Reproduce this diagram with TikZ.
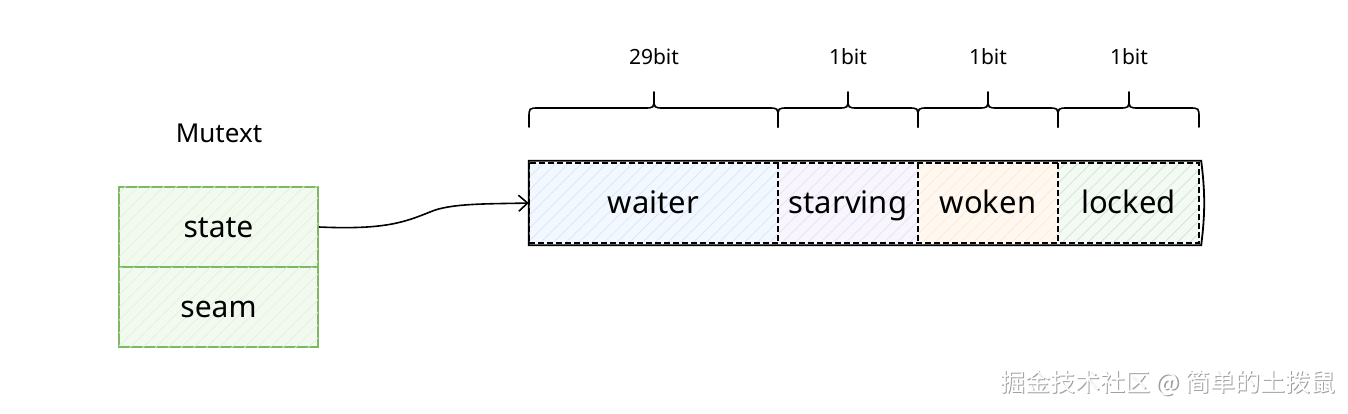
\documentclass[tikz,border=0pt]{standalone}
\usepackage{fontspec}
\setmainfont{Noto Sans}
\newfontfamily\cjk{Noto Sans CJK SC}
\usetikzlibrary{patterns.meta,arrows.meta}
\definecolor{grnline}{RGB}{125,185,100}
\definecolor{grnfill}{RGB}{242,250,240}
\definecolor{bluefill}{RGB}{241,248,254}
\definecolor{purpfill}{RGB}{247,245,254}
\definecolor{orgfill}{RGB}{255,248,240}
\definecolor{lgfill}{RGB}{242,250,243}
\tikzset{
  hatch/.style={postaction={pattern={Lines[angle=45,distance=9pt,line width=0.7pt]},pattern color=#1}},
  field/.style={rectangle,inner sep=0pt,minimum height=80pt,text height=24pt,text depth=4pt,font=\fontsize{31}{33}\selectfont},
  membox/.style={rectangle,draw=grnline,line width=2pt,fill=grnfill,hatch=grnline!22,minimum width=199pt,minimum height=80pt,inner sep=0pt,text height=24pt,text depth=4pt,font=\fontsize{30}{32}\selectfont},
  bitlbl/.style={font=\fontsize{21}{23}\selectfont},
  bracepath/.style={draw,line width=1.6pt,line cap=round,line join=round},
  conn/.style={draw,line width=1.6pt,-{Straight Barb[length=9pt,width=16pt,line width=1.6pt]}},
  dsh/.style={line width=1.5pt,dash pattern=on 6pt off 3pt},
  wmark/.style={font=\cjk\fontsize{25}{27}\selectfont},
}
\begin{document}
\begin{tikzpicture}[x=1pt,y=-1pt]
\useasboundingbox (0,0) rectangle (1348,414);
% Mutext struct
\node[font=\fontsize{26}{28}\selectfont] (title) at (219,133) {Mutext};
\node[membox] (state) at (218.5,227) {state};
\node[membox] (seam) at (218.5,307) {seam};
% bit fields
\node[field,minimum width=249pt,fill=bluefill,hatch=blue!12] (waiter) at (653.5,203) {waiter};
\node[field,minimum width=140pt,fill=purpfill,hatch=violet!13] (starving) at (848,203) {starving};
\node[field,minimum width=140pt,fill=orgfill,hatch=orange!18] (woken) at (988,203) {woken};
\node[field,minimum width=141pt,fill=lgfill,hatch=green!35!black!18] (locked) at (1128.5,203) {locked};
\draw[dsh] (waiter.north west) rectangle (locked.south east);
\draw[dsh] (waiter.north east) -- (waiter.south east);
\draw[dsh] (starving.north east) -- (starving.south east);
\draw[dsh] (woken.north east) -- (woken.south east);
\draw[line width=1.8pt] ([shift={(0,-2)}]waiter.north west) -- ([shift={(2,-2)}]locked.north east)
  .. controls ([shift={(6,30)}]locked.north east) and ([shift={(6,-30)}]locked.south east) .. ([shift={(2,2)}]locked.south east)
  -- ([shift={(0,2)}]waiter.south west) -- cycle;
% braces
\foreach \a/\b/\t/\lab/\txt in {529/778/654/b1/29bit,778/918/848/b2/1bit,918/1058/988/b3/1bit,1058/1199/1129/b4/1bit}{
  \path[bracepath] (\a,127) -- (\a,118) .. controls (\a,108) .. (\a+10,108) -- (\t-10,108)
    .. controls (\t,108) .. (\t,98) -- (\t,92)
    (\t,98) .. controls (\t,108) .. (\t+10,108) -- (\b-10,108)
    .. controls (\b,108) .. (\b,118) -- (\b,127);
  \node[bitlbl] (\lab) at (\t,57) {\txt};
}
% connector
\coordinate (mid) at (430,212);
\draw[conn] (state.east) .. controls (385,230) and (405,222) .. (mid) .. controls (450,203) and (490,204) .. (waiter.west);
% watermark
\node[wmark,text=gray!75] (wm) at (1169,384) {掘金技术社区 @ 简单的土拨鼠};
\node[wmark,text=white] (wm2) at (1167.8,382.8) {掘金技术社区 @ 简单的土拨鼠};
\end{tikzpicture}
\end{document}
